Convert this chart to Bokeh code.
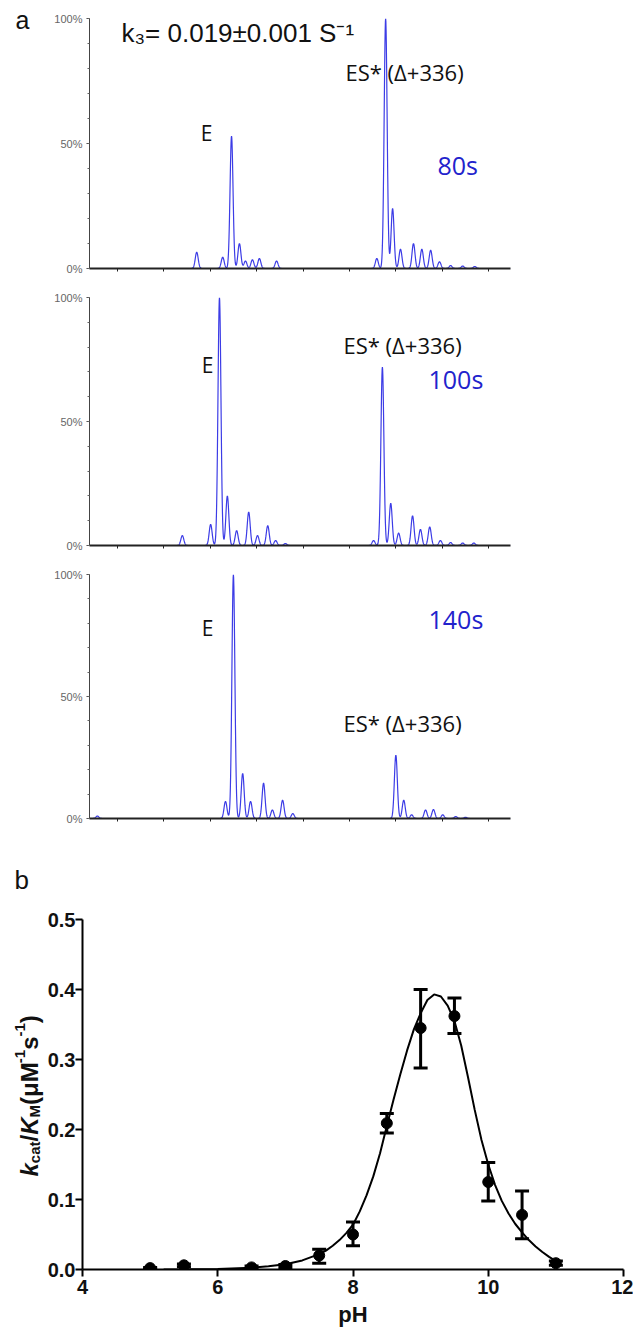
import numpy as np
from bokeh.plotting import figure
from bokeh.models import (Range1d, Label, FixedTicker, ColumnDataSource, Whisker, TeeHead,
                          PrintfTickFormatter, CustomLabelingPolicy)
from bokeh.layouts import column, row
from bokeh.embed import file_html
from bokeh.resources import INLINE

# ---------------- DATA ----------------
mass_ticks = [29100, 29200, 29300, 29400, 29500, 29600, 29700, 29800, 29900]
pct_ticks = [0, 0.5, 1.0]
pct_labels = ["0%", "50%", "100%"]

a1_pos = [29271, 29327, 29346, 29363, 29376, 29391, 29406, 29443,
          29659, 29678, 29693, 29710, 29738, 29756, 29775, 29794, 29818, 29844, 29870]
a1_int = [0.065, 0.045, 0.53, 0.10, 0.03, 0.035, 0.04, 0.03,
          0.04, 1.00, 0.24, 0.077, 0.10, 0.077, 0.073, 0.027, 0.012, 0.010, 0.008]

a2_pos = [29240, 29301, 29320, 29337, 29357, 29383, 29402, 29424, 29441, 29462,
          29652, 29671, 29689, 29706, 29736, 29753, 29773, 29796, 29818, 29844, 29868]
a2_int = [0.04, 0.085, 1.00, 0.20, 0.06, 0.135, 0.04, 0.08, 0.02, 0.008,
          0.02, 0.72, 0.17, 0.05, 0.12, 0.065, 0.075, 0.02, 0.012, 0.010, 0.010]

a3_pos = [29057, 29333, 29350, 29370, 29387, 29415, 29434, 29456, 29478,
          29700, 29717, 29734, 29764, 29781, 29801, 29829, 29850]
a3_int = [0.01, 0.07, 1.00, 0.185, 0.07, 0.145, 0.035, 0.075, 0.02,
          0.26, 0.075, 0.015, 0.035, 0.037, 0.015, 0.008, 0.005]

time_labels = ["80s", "100s", "140s"]
peak_E = "E"
peak_ES = "ES* (Δ+336)"
rate_text = "k₃= 0.019±0.001 S⁻¹"

ph = [5.0, 5.5, 6.5, 7.0, 7.5, 8.0, 8.5, 9.0, 9.5, 10.0, 10.5, 11.0]
kcat_km = [0.002, 0.006, 0.003, 0.005, 0.020, 0.050, 0.209, 0.345, 0.362, 0.125, 0.078, 0.009]
err_low = [0.001, 0.004, 0.001, 0.003, 0.009, 0.034, 0.195, 0.288, 0.337, 0.098, 0.044, 0.006]
err_high = [0.003, 0.008, 0.005, 0.007, 0.029, 0.068, 0.223, 0.400, 0.388, 0.153, 0.112, 0.012]

fit_ph = [5.2, 5.5, 6.0, 6.5, 6.75, 7.0, 7.25, 7.5, 7.6, 7.7, 7.8, 7.9, 8.0, 8.1, 8.2, 8.3, 8.4,
          8.5, 8.6, 8.7, 8.8, 8.9, 9.0, 9.1, 9.2, 9.3, 9.4, 9.5, 9.6, 9.7, 9.8, 9.9, 10.0,
          10.1, 10.2, 10.3, 10.4, 10.5, 10.6, 10.7, 10.8, 10.9, 11.0]
fit_val = [0.0001, 0.0003, 0.0008, 0.0025, 0.0045, 0.0075, 0.013, 0.022, 0.027, 0.034, 0.042,
           0.052, 0.064, 0.083, 0.106, 0.133, 0.166, 0.205, 0.243, 0.279, 0.313, 0.343, 0.366,
           0.385, 0.393, 0.390, 0.377, 0.355, 0.320, 0.275, 0.228, 0.185, 0.150, 0.121, 0.098,
           0.080, 0.065, 0.053, 0.042, 0.033, 0.025, 0.018, 0.012]

ph_ticks = [4, 6, 8, 10, 12]
k_ticks = [0.0, 0.1, 0.2, 0.3, 0.4, 0.5]
x_title = "pH"

# ---------------- LAYOUT / STYLE ----------------
PAGE_W, PAGE_H = 633, 1334
STRIP = 44
W = PAGE_W - STRIP
M0, M1 = 29040, 29947
FL, FR = 89, 510
SIG = 3.2
BLUE_LINE = "#3c3ce6"
BLUE_TEXT = "#2222cc"

xs = np.arange(M0, M1, 0.5)


def profile(pos, inten):
    y = np.zeros_like(xs)
    for c, h in zip(pos, inten):
        y += h * np.exp(-0.5 * ((xs - c) / SIG) ** 2)
    return y


no_labels = CustomLabelingPolicy(code="return new Set()")


def spectrum_fig(h, fig_top, top, bottom, pos, inten):
    mbt = top - fig_top
    fh = bottom - top
    p = figure(width=W, height=h, x_range=Range1d(M0, M1), y_range=Range1d(0, 1),
               output_backend="svg", toolbar_location=None, frame_align=False,
               min_border_left=FL - STRIP, min_border_right=W - (FL - STRIP) - (FR - FL),
               min_border_top=mbt, min_border_bottom=h - mbt - fh)
    p.outline_line_color = None
    p.grid.visible = False
    p.line(xs, profile(pos, inten), line_color=BLUE_LINE, line_width=1.2)
    xa = p.xaxis[0]
    xa.ticker = FixedTicker(ticks=mass_ticks)
    xa.axis_line_width = 2
    xa.axis_line_color = "#222222"
    xa.major_tick_out = 3
    xa.major_tick_in = 0
    xa.major_tick_line_color = "#222222"
    xa.minor_tick_out = 0
    xa.minor_tick_in = 0
    xa.major_label_policy = no_labels
    ya = p.yaxis[0]
    ya.ticker = FixedTicker(ticks=pct_ticks, minor_ticks=[i / 10 for i in range(11)])
    ya.major_label_overrides = {t: l for t, l in zip(pct_ticks, pct_labels)}
    ya.axis_line_color = "#444444"
    ya.major_tick_out = 3
    ya.major_tick_in = 0
    ya.minor_tick_out = 2
    ya.minor_tick_in = 0
    ya.major_tick_line_color = "#444444"
    ya.minor_tick_line_color = "#666666"
    ya.major_label_text_font = "Liberation Sans"
    ya.major_label_text_font_size = "11px"
    ya.major_label_text_color = "#666666"
    ya.major_label_standoff = 4

    def dx(px):
        return M0 + (px - FL) / (FR - FL) * (M1 - M0)

    def dy(py):
        return (bottom - py) / (bottom - top)

    return p, dx, dy


def add_text(p, x, y, text, font, size, color="#111111", align="left", style="normal",
             baseline="middle", angle=0.0):
    p.add_layout(Label(x=x, y=y, text=text, text_font=font, text_font_size=size,
                       text_color=color, text_align=align, text_baseline=baseline,
                       text_font_style=style, angle=angle))


# Panel a1
p1, dx, dy = spectrum_fig(287, 0, 18, 277, a1_pos, a1_int)
add_text(p1, dx(121), dy(33), rate_text, "Liberation Sans", "26px")
add_text(p1, dx(206), dy(137), peak_E, "Open Sans", "21px", align="center")
add_text(p1, dx(345), dy(73), peak_ES, "Open Sans", "22px")
add_text(p1, dx(437), dy(170), time_labels[0], "Open Sans", "25px", color=BLUE_TEXT)

# Panel a2
p2, dx, dy = spectrum_fig(277, 287, 297, 550, a2_pos, a2_int)
add_text(p2, dx(207), dy(366), peak_E, "Open Sans", "21px", align="center")
add_text(p2, dx(343), dy(345), peak_ES, "Open Sans", "22px")
add_text(p2, dx(428), dy(380), time_labels[1], "Open Sans", "25px", color=BLUE_TEXT)

# Panel a3
p3, dx, dy = spectrum_fig(276, 564, 574, 818, a3_pos, a3_int)
add_text(p3, dx(207), dy(627), peak_E, "Open Sans", "21px", align="center")
add_text(p3, dx(428), dy(618), time_labels[2], "Open Sans", "25px", color=BLUE_TEXT)
add_text(p3, dx(343), dy(722), peak_ES, "Open Sans", "22px")

# Panel b
BL, BR, BT, BB = 79, 623, 919, 1269
HB = PAGE_H - 840
pb = figure(width=W, height=HB, x_range=Range1d(4, 12), y_range=Range1d(0, 0.5),
            output_backend="svg", toolbar_location=None, frame_align=False,
            min_border_left=BL - STRIP, min_border_right=W - (BL - STRIP) - (BR - BL),
            min_border_top=BT - 840, min_border_bottom=HB - (BT - 840) - (BB - BT))
pb.outline_line_color = None
pb.grid.visible = False

pb.line(fit_ph, fit_val, line_color="black", line_width=2)
src = ColumnDataSource(dict(x=ph, y=kcat_km, lo=err_low, hi=err_high))
pb.add_layout(Whisker(source=src, base="x", upper="hi", lower="lo", line_width=3, line_color="black",
                      upper_head=TeeHead(size=14, line_width=3, line_color="black"),
                      lower_head=TeeHead(size=14, line_width=3, line_color="black")))
pb.scatter("x", "y", source=src, size=11, color="black")

for ax in (pb.xaxis[0], pb.yaxis[0]):
    ax.axis_line_width = 2
    ax.axis_line_color = "black"
    ax.major_tick_line_width = 2
    ax.major_tick_out = 7
    ax.major_tick_in = 0
    ax.minor_tick_out = 0
    ax.minor_tick_in = 0
    ax.major_label_text_font = "Liberation Sans"
    ax.major_label_text_font_style = "bold"
    ax.major_label_text_font_size = "20px"
    ax.major_label_text_color = "#111111"
pb.xaxis[0].ticker = FixedTicker(ticks=ph_ticks)
pb.xaxis[0].major_label_standoff = 3
pb.xaxis[0].axis_label = x_title
pb.xaxis[0].axis_label_text_font = "Liberation Sans"
pb.xaxis[0].axis_label_text_font_style = "bold"
pb.xaxis[0].axis_label_text_font_size = "22px"
pb.xaxis[0].axis_label_text_color = "#111111"
pb.xaxis[0].axis_label_standoff = 5
pb.yaxis[0].ticker = FixedTicker(ticks=k_ticks)
pb.yaxis[0].formatter = PrintfTickFormatter(format="%.1f")
pb.yaxis[0].major_label_standoff = 0

# Left strip holding panel letters and the rotated y-axis title (page pixel coordinates)
strip = figure(width=STRIP, height=PAGE_H, x_range=Range1d(0, STRIP), y_range=Range1d(PAGE_H, 0),
               output_backend="svg", toolbar_location=None, frame_align=False,
               x_axis_location=None, y_axis_location=None, min_border=0)
strip.outline_line_color = None
strip.grid.visible = False
add_text(strip, 15, 19, "a", "Liberation Sans", "25px", baseline="alphabetic")
add_text(strip, 14, 879, "b", "Liberation Sans", "26px", baseline="alphabetic")

wid = {"k": .556, "c": .556, "a": .556, "t": .333, "/": .278, "K": .722, "M": .833, "(": .333,
       "μ": .576, "-": .333, "1": .556, "s": .556, ")": .333}
pieces = [("k", 24, "bold italic", 0), ("cat", 15, "bold", 5), ("/", 24, "bold", 0),
          ("K", 24, "bold italic", 0), ("M", 15, "bold", 5), ("(μM", 24, "bold", 0),
          ("-1", 15, "bold", -10), ("s", 24, "bold", 0), ("-1", 15, "bold", -10), (")", 24, "bold", 0)]
cursor = 1176
base_x = 29
for txt, sz, st, sh in pieces:
    add_text(strip, base_x + sh, cursor, txt, "Liberation Sans", f"{sz}px", style=st,
             baseline="alphabetic", angle=np.pi / 2)
    cursor -= sum(wid[c] for c in txt) * sz

layout = row(strip, column(p1, p2, p3, pb, spacing=0), spacing=0)
open("out.html", "w").write(file_html(layout, INLINE))
